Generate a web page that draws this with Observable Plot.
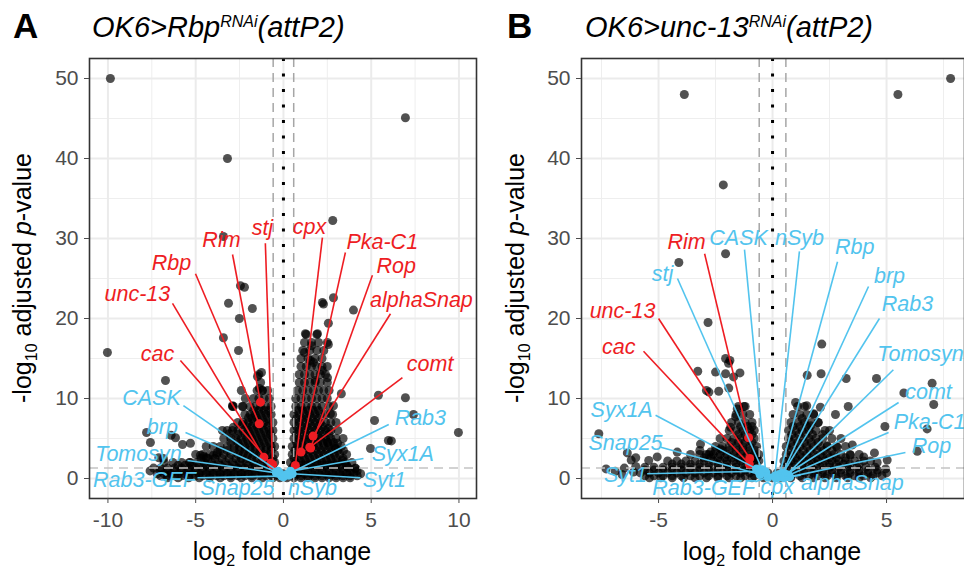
<!DOCTYPE html>
<html>
<head>
<meta charset="utf-8">
<script src="https://cdn.jsdelivr.net/npm/d3@7"></script>
<script src="https://cdn.jsdelivr.net/npm/@observablehq/plot@0.6"></script>
<style>
  html,body{margin:0;padding:0;background:#fff;}
  #wrap{position:relative;width:964px;height:577px;overflow:hidden;font-family:"Liberation Sans",Arial,sans-serif;}
  #wrap > svg{position:absolute;top:0;}
</style>
</head>
<body>
<div id="wrap"></div>
<script>
// ---------- shared ----------
const yTicks = [0, 10, 20, 30, 40, 50];
const yMinor = [5, 15, 25, 35, 45];
const fcCut = 0.585;   // log2(1.5)
const pCut = 1.3;      // -log10(0.05)

// ---------- panel A : OK6>Rbp RNAi ----------
const aXTicks = [-10, -5, 0, 5, 10];
const aXMinor = [-7.5, -2.5, 2.5, 7.5];
const aScatter = [
  [-9.86,50],[-3.19,40],[6.95,45.1],[2.81,32.25],[-3.42,30.25],[-2.45,24.1],[-2.22,23.9],
  [-3.13,21.9],[-1.77,21.25],[-2.51,20],[-3.42,17.6],[-2.56,16],
  [2.22,22],[2.28,21.8],[2.85,22.6],[3.99,21.05],[2.56,19.4],[1.25,18.1],[1.94,18.1],[2.56,16.75],[1.6,16.6],
  [-10.03,15.75],[-6.72,12.25],[-7.8,5.75],[-7.58,4.5],[-6.15,5.1],[-5.75,4.25],[-5.3,4.4],[-6.4,5.4],
  [-1.25,13.25],[-1.48,12.75],[-2.17,10],[-2.85,9],[-2.34,9],[-1.2,11],[-1.99,7.6],[-2.34,6.75],[-2.85,6.4],
  [-3.48,6],[-3.08,5.6],[-2.9,9.1],[-1.37,11.25],[-2.4,11],
  [-6.84,2.5],[-7.1,2.6],[-4.73,2.9],[-3.99,2.9],[-4.4,2.6],[-3.76,3.25],[-5.36,2.0],[-4.56,2.75],
  [5.41,10.4],[6.95,10.1],[7.41,8],[5.19,7.25],[9.97,5.75],[5.98,4.75],[6.15,4.7],[4.96,3.75],[4.1,1.25],
  [3.3,10.6],[2.85,9.1],[2.56,6.25],[3.08,4.4],[3.42,3.5],[1.71,14.5],[2.51,12.6],[2.22,13.5],[1.82,12.25],
  [1.2,15.75],[1.54,14.75],[2.68,8.1],[3.65,1.4],[3.36,2.25],[2.96,3.75],[2.5,4.5]
];
const aRows = [
  [18, [1.3, 1.9]],
  [17, [1.2, 1.6, 2.0, 2.5]],
  [16, [1.1, 1.5, 1.9, 2.3]],
  [15, [1.0, 1.4, 1.8, 2.2]],
  [14, [1.0, 1.3, 1.6, 1.9, 2.2, 2.5]],
  [13, [-1.4, 0.9, 1.2, 1.5, 1.8, 2.1, 2.4]],
  [12, [-1.3, 0.9, 1.2, 1.5, 1.8, 2.1, 2.5]],
  [11, [-1.5, -1.2, -0.9, 0.8, 1.1, 1.4, 1.7, 2.0, 2.3, 2.6]],
  [10, [-1.7, -1.4, -1.1, -0.8, 0.7, 1.0, 1.3, 1.6, 1.9, 2.2, 2.5]],
  [9, [-2.9, -2.3, -1.9, -1.6, -1.3, -1.0, -0.7, 0.7, 1.0, 1.3, 1.6, 1.9, 2.2, 2.6]],
  [8.5, [-1.7, -1.4, -1.1, -0.85, 0.8, 1.1, 1.4, 1.7, 2.0]],
  [8, [-2.2, -1.9, -1.6, -1.3, -1.0, -0.7, 0.6, 0.9, 1.2, 1.5, 1.8, 2.1, 2.4, 2.8]],
  [7.5, [-1.8, -1.5, -1.2, -0.9, 0.75, 1.05, 1.35, 1.65, 1.95]],
  [7, [-2.6, -2.3, -2.0, -1.7, -1.4, -1.1, -0.8, -0.6, 0.6, 0.9, 1.2, 1.5, 1.8, 2.1, 2.4, 2.7, 3.0]],
  [6.5, [-2.1, -1.8, -1.5, -1.2, -0.9, 0.75, 1.05, 1.35, 1.65, 1.95, 2.25]],
  [6, [-3.2, -2.9, -2.6, -2.3, -2.0, -1.7, -1.4, -1.1, -0.8, -0.6, 0.6, 0.9, 1.2, 1.5, 1.8, 2.1, 2.4, 2.7, 3.1]],
  [5.5, [-2.6, -2.2, -1.9, -1.6, -1.3, -1.0, -0.75, 0.75, 1.05, 1.35, 1.65, 1.95, 2.25, 2.6]],
  [5, [-3.4, -3.0, -2.7, -2.4, -2.1, -1.8, -1.5, -1.2, -0.9, -0.6, 0.6, 0.9, 1.2, 1.5, 1.8, 2.1, 2.4, 2.7, 3.0, 3.4]],
  [4.5, [-3.0, -2.6, -2.3, -2.0, -1.7, -1.4, -1.1, -0.8, 0.75, 1.05, 1.35, 1.65, 1.95, 2.25, 2.55, 2.85]],
  [4, [-4.4, -4.0, -3.6, -3.2, -2.8, -2.5, -2.2, -1.9, -1.6, -1.3, -1.0, -0.7, -0.5, 0.5, 0.8, 1.1, 1.4, 1.7, 2.0, 2.3, 2.6, 2.9, 3.3]],
  [3.5, [-3.6, -3.2, -2.8, -2.5, -2.2, -1.9, -1.6, -1.3, -1.0, -0.7, 0.65, 0.95, 1.25, 1.55, 1.85, 2.15, 2.45, 2.75, 3.1]],
  [3, [-5.0, -4.6, -4.2, -3.8, -3.4, -3.0, -2.6, -2.3, -2.0, -1.7, -1.4, -1.1, -0.8, -0.5, 0.5, 0.8, 1.1, 1.4, 1.7, 2.0, 2.3, 2.6, 2.9, 3.2, 3.6]],
  [2.5, [-4.7, -4.3, -3.9, -3.5, -3.1, -2.7, -2.4, -2.1, -1.8, -1.5, -1.2, -0.9, -0.6, 0.6, 0.9, 1.2, 1.5, 1.8, 2.1, 2.4, 2.7, 3.0, 3.4]],
  [2, [-6.8, -6.3, -5.8, -5.3, -4.9, -4.5, -4.1, -3.7, -3.3, -2.9, -2.5, -2.1, -1.7, -1.3, -0.9, -0.5, 0.4, 0.7, 1.0, 1.3, 1.6, 1.9, 2.2, 2.5, 2.8, 3.1, 3.5, 3.9]],
  [1.65, [-6.0, -5.6, -5.2, -4.8, -4.4, -4.0, -3.6, -3.2, -2.8, -2.4, -2.0, -1.6, -1.2, -0.8, 0.6, 0.9, 1.2, 1.5, 1.8, 2.1, 2.4, 2.7, 3.0, 3.3, 3.6]],
  [1.3, [-7.4, -7.0, -6.6, -6.2, -5.8, -5.4, -5.0, -4.6, -4.2, -3.8, -3.4, -3.0, -2.6, -2.2, -1.8, -1.4, -1.0, -0.6, 0.5, 0.9, 1.3, 1.7, 2.1, 2.5, 2.9, 3.3, 3.7, 4.1]],
  [0.95, [-7.6, -7.0, -6.6, -6.2, -5.8, -5.4, -5.0, -4.6, -4.2, -3.8, -3.4, -3.0, -2.6, -2.2, -1.8, -1.4, -1.0, -0.6, 0.6, 1.0, 1.4, 1.8, 2.2, 2.6, 3.0, 3.4, 3.8, 4.2]],
  [0.6, [-7.2, -6.8, -6.4, -6.0, -5.6, -5.2, -4.8, -4.4, -4.0, -3.6, -3.2, -2.8, -2.4, -2.0, -1.6, -1.2, -0.8, -0.4, 0, 0.4, 0.8, 1.2, 1.6, 2.0, 2.4, 2.8, 3.2, 3.6, 4.0, 4.4]],
  [0.35, [-7.0, -6.6, -6.2, -5.8, -5.4, -5.0, -4.6, -4.2, -3.8, -3.4, -3.0, -2.6, -2.2, -1.8, -1.4, -1.0, -0.6, -0.2, 0.2, 0.6, 1.0, 1.4, 1.8, 2.2, 2.6, 3.0, 3.4, 3.8, 4.2]],
  [0.1, [-6.6, -6.0, -5.4, -4.8, -4.2, -3.6, -3.0, -2.4, -1.8, -1.2, -0.6, -0.2, 0.2, 0.6, 1.0, 1.4, 1.8, 2.2, 2.6, 3.0, 3.4, 3.8]]
];
const aGenes  = ["stj","Rim","Rbp","unc-13","cac","cpx","Pka-C1","Rop","alphaSnap","comt","CASK","brp","Tomosyn","Rab3-GEF","Snap25","nSyb","Syt1","Syx1A","Rab3"];
const aGeneFC = [-0.62,-1.31,-1.38,-1.12,-0.72, 0.68,1.0,1.55,1.69,1.5, -0.3,-0.2,-0.4,-0.1,0.0,0.3,0.5,0.4,0.2];
const aGeneP  = [1.75,9.54,6.83,2.66,1.9, 1.62,3.3,3.8,5.3,3.9, 0.9,0.6,0.7,0.3,0.2,0.4,0.6,0.9,0.5];
const aGroup  = ["sig","sig","sig","sig","sig","sig","sig","sig","sig","sig","ns","ns","ns","ns","ns","ns","ns","ns","ns"];
const aLabX   = [-1.2,-3.53,-6.38,-8.32,-7.18, 1.48,5.63,6.42,7.86,8.36, -7.52,-6.9,-8.26,-7.92,-2.62,1.65,5.75,6.8,7.8];
const aLabY   = [31.25,29.75,26.9,23.1,15.6, 31.4,29.6,26.5,22.25,14.25, 10.1,6.4,3.1,-0.25,-1.25,-1.25,-0.25,3.1,7.6];
const aSegX   = [-1.03,-2.9,-5.01,-6.32,-5.87, 2.22,3.53,5.07,6.1,6.78, -5.7,-5.58,-5.47,-4.9,null,null,4.39,4.56,6.0];
const aSegY   = [29.4,28.0,25.6,21.9,14.75, 30.1,28.25,25.4,20.6,12.6, 9.1,5.75,2.25,0.1,null,null,0.1,2.5,6.75];

// ---------- panel B : OK6>unc-13 RNAi ----------
const bXTicks = [-5, 0, 5];
const bXMinor = [-7.5, -2.5, 2.5, 7.5];
const bScatter = [
  [-3.87,48],[5.5,48],[7.81,50],[-2.16,36.7],[-2.06,28.1],[-4.11,27],
  [2.16,16.8],[-2.83,19.5],[-2.06,15],[-1.93,14.4],[-3.28,13.4],[-2.5,13.3],[-2.06,13.1],[-1.43,13.2],[-1.71,12.7],
  [-2.79,10.8],[-2.9,11.0],[-2.36,10.9],[-1.92,11.3],[-1.87,14.75],
  [1.52,12.9],[2.13,13.1],[3.23,12.5],[4.56,12.5],[7.0,11.9],[5.76,10.7],[7.07,9.25],[1.01,9.5],[1.5,9.1],[2.1,8.9],
  [3.32,9],[2.76,8],[4.93,6.5],[6.78,6.2],[6.35,3.4],[4.47,3.2],[5.03,2.3],[4.96,1.2],[4.59,2.0],[4.0,2.7],[3.42,2.9],
  [2.84,3.9],[2.4,4.1],[1.67,6.6],[1.3,7.5],[2.0,7.0],[2.5,6.0],[3.0,5.0],[3.5,4.2],[2.2,5.5],[1.8,8.1],
  [-7.62,5.6],[-6.37,3.2],[-6.0,2.6],[-6.2,2.3],[-5.06,2.7],[-5.43,2.25],[-4.18,3.3],[-3.16,4.3],[-2.72,3.3],
  [-2.28,3.7],[-1.84,6.4],[-1.55,8.7],[-1.26,9],[-1.62,7.7],[-3.19,3.5],[-2.8,3.0],[-2.5,3.5],
  [-7.3,1.2],[-6.9,0.9],[-6.5,1.3],[-6.1,0.8],[-6.0,1.5],[-6.6,0.5]
];
const bRows = [
  [9, [-1.5, -1.2, 1.1, 1.4]],
  [8, [-1.6, -1.3, -1.0, 0.9, 1.2, 1.5, 1.8]],
  [7, [-1.8, -1.5, -1.2, -0.9, 0.8, 1.1, 1.4, 1.7, 2.0]],
  [6.5, [-1.4, -1.1, -0.9, 0.9, 1.2, 1.5]],
  [6, [-1.9, -1.6, -1.3, -1.0, -0.8, 0.7, 1.0, 1.3, 1.6, 1.9, 2.3]],
  [5.5, [-1.5, -1.2, -0.9, 0.85, 1.15, 1.45, 1.75]],
  [5, [-2.3, -2.0, -1.7, -1.4, -1.1, -0.8, 0.7, 1.0, 1.3, 1.6, 1.9, 2.2, 2.6]],
  [4.5, [-1.8, -1.5, -1.2, -0.9, 0.8, 1.1, 1.4, 1.7, 2.0]],
  [4, [-2.5, -2.2, -1.9, -1.6, -1.3, -1.0, -0.7, 0.6, 0.9, 1.2, 1.5, 1.8, 2.1, 2.4, 2.8, 3.2]],
  [3.5, [-2.2, -1.9, -1.6, -1.3, -1.0, -0.75, 0.75, 1.05, 1.35, 1.65, 1.95, 2.25, 2.6]],
  [3, [-3.6, -3.2, -2.9, -2.6, -2.3, -2.0, -1.7, -1.4, -1.1, -0.8, -0.6, 0.6, 0.9, 1.2, 1.5, 1.8, 2.1, 2.4, 2.7, 3.0, 3.4, 3.8]],
  [2.6, [-3.0, -2.7, -2.4, -2.1, -1.8, -1.5, -1.2, -0.9, -0.7, 0.7, 1.0, 1.3, 1.6, 1.9, 2.2, 2.5, 2.8, 3.2]],
  [2.2, [-4.6, -4.2, -3.8, -3.4, -3.0, -2.6, -2.3, -2.0, -1.7, -1.4, -1.1, -0.8, -0.6, 0.5, 0.8, 1.1, 1.4, 1.7, 2.0, 2.3, 2.6, 2.9, 3.2, 3.6, 4.0, 4.3]],
  [1.8, [-4.4, -4.0, -3.6, -3.2, -2.8, -2.4, -2.0, -1.6, -1.3, -1.0, -0.7, 0.7, 1.0, 1.3, 1.6, 1.9, 2.2, 2.5, 2.8, 3.1, 3.4, 3.8]],
  [1.4, [-5.6, -5.2, -4.8, -4.4, -4.0, -3.6, -3.2, -2.8, -2.4, -2.0, -1.6, -1.2, -0.8, 0.5, 0.9, 1.3, 1.7, 2.1, 2.5, 2.9, 3.3, 3.7, 4.1, 4.5]],
  [1.05, [-5.6, -5.2, -4.8, -4.4, -4.0, -3.6, -3.2, -2.8, -2.4, -2.0, -1.6, -1.2, -0.8, 0.6, 1.0, 1.4, 1.8, 2.2, 2.6, 3.0, 3.4, 3.8, 4.2, 4.6]],
  [0.7, [-5.8, -5.4, -5.0, -4.6, -4.2, -3.8, -3.4, -3.0, -2.6, -2.2, -1.8, -1.4, -1.0, -0.6, -0.2, 0.2, 0.6, 1.0, 1.4, 1.8, 2.2, 2.6, 3.0, 3.4, 3.8, 4.2, 4.6, 5.0]],
  [0.35, [-5.6, -5.2, -4.8, -4.4, -4.0, -3.6, -3.2, -2.8, -2.4, -2.0, -1.6, -1.2, -0.8, -0.4, 0.4, 0.8, 1.2, 1.6, 2.0, 2.4, 2.8, 3.2, 3.6, 4.0, 4.4, 4.8]],
  [0.1, [-5.4, -4.9, -4.4, -3.9, -3.4, -2.9, -2.4, -1.9, -1.4, -0.9, -0.4, 0.0, 0.4, 0.8, 1.3, 1.8, 2.3, 2.8, 3.3, 3.8, 4.3]]
];
const bGenes  = ["Rim","unc-13","cac","stj","CASK","nSyb","Rbp","brp","Rab3","Tomosyn","comt","Pka-C1","Rop","alphaSnap","cpx","Rab3-GEF","Syt1","Snap25","Syx1A"];
const bGeneFC = [-1.05,-1.0,-1.02, -0.45,-0.3,0.1,0.3,0.45,0.35,0.55,0.6,0.7,0.75,0.5,0.15,-0.2,-0.6,-0.55,-0.7];
const bGeneP  = [5.1,2.5,1.8, 1.1,0.8,0.3,0.5,0.7,0.2,0.3,0.5,0.4,0.2,0.1,0.05,0.15,0.9,0.5,1.2];
const bGroup  = ["sig","sig","sig","ns","ns","ns","ns","ns","ns","ns","ns","ns","ns","ns","ns","ns","ns","ns","ns"];
const bLabX   = [-3.77,-6.58,-6.75, -4.83,-1.49,1.18,3.6,5.13,5.92,6.49,6.84,6.89,6.97,3.5,0.21,-3.02,-6.45,-6.45,-6.62];
const bLabY   = [29.5,20.9,16.4, 25.5,30.1,30.1,28.9,25.25,21.75,15.5,10.75,7.0,4.1,-0.6,-1.1,-1.25,0.4,4.4,8.5];
const bSegX   = [-2.98,-5.0,-5.66, -4.17,-1.23,1.18,2.85,4.21,4.69,5.3,5.53,5.09,5.83,1.23,null,-0.75,-5.5,-4.9,-5.13];
const bSegY   = [28.1,20.0,15.9, 25.0,28.6,28.4,27.1,24.0,20.0,13.6,9.5,5.75,3.25,0.4,null,-0.4,0.6,3.9,7.9];

// ---------- drawing ----------
const RED = "#EE1D23", BLUE = "#52C4EE";
const FONT = "'Liberation Sans', Arial, sans-serif";
const rowsToPoints = rows => rows.flatMap(([y, xs]) => xs.map(x => [x, y]));

function volcano(cfg) {
  const g = cfg.genes.map((name, i) => ({
    name, x: cfg.fc[i], y: cfg.p[i], group: cfg.group[i],
    lx: cfg.labX[i], ly: cfg.labY[i], sx: cfg.segX[i], sy: cfg.segY[i]
  }));
  const col = d => d.group === "sig" ? RED : BLUE;
  const pts = cfg.scatter.concat(rowsToPoints(cfg.rows));
  return Plot.plot({
    width: cfg.width, height: 577,
    marginLeft: cfg.marginLeft, marginRight: cfg.marginRight, marginTop: 58, marginBottom: 79,
    style: {fontFamily: FONT, color: "#4D4D4D", background: "transparent", overflow: "visible"},
    x: {domain: cfg.xDomain, label: null},
    y: {domain: [-2.5, 52.5], label: null},
    color: {type: "identity"},
    marks: [
      Plot.ruleX(cfg.xMinor, {stroke: "#EEEEEE", strokeWidth: 1}),
      Plot.ruleY(yMinor, {stroke: "#EEEEEE", strokeWidth: 1}),
      Plot.ruleX(cfg.xTicks, {stroke: "#EBEBEB", strokeWidth: 2}),
      Plot.ruleY(yTicks, {stroke: "#EBEBEB", strokeWidth: 2}),
      Plot.dot(pts, {x: d => d[0], y: d => d[1], r: 4.5, fill: "#000", fillOpacity: 0.68, stroke: "none"}),
      Plot.ruleY([pCut], {stroke: "#C4C4C4", strokeWidth: 1.5, strokeDasharray: "9,6"}),
      Plot.ruleX([-fcCut, fcCut], {stroke: "#A6A6A6", strokeWidth: 1.5, strokeDasharray: "9,6"}),
      Plot.ruleX([0], {stroke: "#000", strokeWidth: 3, strokeDasharray: "3,12.5"}),
      Plot.dot(g, {x: "x", y: "y", r: 4.5, fill: col, stroke: "none"}),
      Plot.link(g.filter(d => d.sx != null), {x1: "sx", y1: "sy", x2: "x", y2: "y", stroke: col, strokeWidth: 1.6}),
      Plot.text(g, {x: "lx", y: "ly", text: "name", fill: col, fontSize: 21.5, fontStyle: "italic"}),
      Plot.frame({stroke: "#333", strokeWidth: 1.6}),
      Plot.axisX({ticks: cfg.xTicks, tickSize: 5, tickPadding: 9, fontSize: 21, tickFormat: d => String(d), label: null}),
      Plot.axisY({ticks: yTicks, tickSize: 5, tickPadding: 6, fontSize: 21, tickFormat: d => String(d), label: null})
    ]
  });
}

const wrap = document.getElementById("wrap");
const svgA = volcano({
  width: 480, marginLeft: 89, marginRight: 4, xDomain: [-11.05, 11.0],
  xTicks: aXTicks, xMinor: aXMinor, scatter: aScatter, rows: aRows,
  genes: aGenes, fc: aGeneFC, p: aGeneP, group: aGroup, labX: aLabX, labY: aLabY, segX: aSegX, segY: aSegY
});
svgA.style.left = "0px";
wrap.appendChild(svgA);
const svgB = volcano({
  width: 484, marginLeft: 101, marginRight: 0, xDomain: [-8.38, 8.42],
  xTicks: bXTicks, xMinor: bXMinor, scatter: bScatter, rows: bRows,
  genes: bGenes, fc: bGeneFC, p: bGeneP, group: bGroup, labX: bLabX, labY: bLabY, segX: bSegX, segY: bSegY
});
svgB.style.left = "480px";
wrap.appendChild(svgB);

// titles and axis titles
const overlay = `
<svg width="964" height="577" style="left:0;pointer-events:none;font-family:${FONT}" xmlns="http://www.w3.org/2000/svg">
  <text x="13" y="38" font-size="35" font-weight="bold" fill="#000">A</text>
  <text x="92" y="37" font-size="29" font-style="italic" fill="#000">OK6&gt;Rbp<tspan font-size="16" dy="-10">RNAi</tspan><tspan font-size="29" dy="10">(attP2)</tspan></text>
  <text x="507" y="38" font-size="35" font-weight="bold" fill="#000">B</text>
  <text x="585" y="37" font-size="29" font-style="italic" fill="#000">OK6&gt;unc-13<tspan font-size="16" dy="-10">RNAi</tspan><tspan font-size="29" dy="10">(attP2)</tspan></text>
  <text transform="translate(31,278) rotate(-90)" text-anchor="middle" font-size="25" fill="#000">-log<tspan font-size="16" dy="6">10</tspan><tspan dy="-6"> adjusted </tspan><tspan font-style="italic">p</tspan>-value</text>
  <text transform="translate(524,278) rotate(-90)" text-anchor="middle" font-size="25" fill="#000">-log<tspan font-size="16" dy="6">10</tspan><tspan dy="-6"> adjusted </tspan><tspan font-style="italic">p</tspan>-value</text>
  <text x="282" y="560" text-anchor="middle" font-size="25" fill="#000">log<tspan font-size="16" dy="6">2</tspan><tspan dy="-6"> fold change</tspan></text>
  <text x="772" y="560" text-anchor="middle" font-size="25" fill="#000">log<tspan font-size="16" dy="6">2</tspan><tspan dy="-6"> fold change</tspan></text>
</svg>`;
wrap.insertAdjacentHTML("beforeend", overlay);
</script>
</body>
</html>
